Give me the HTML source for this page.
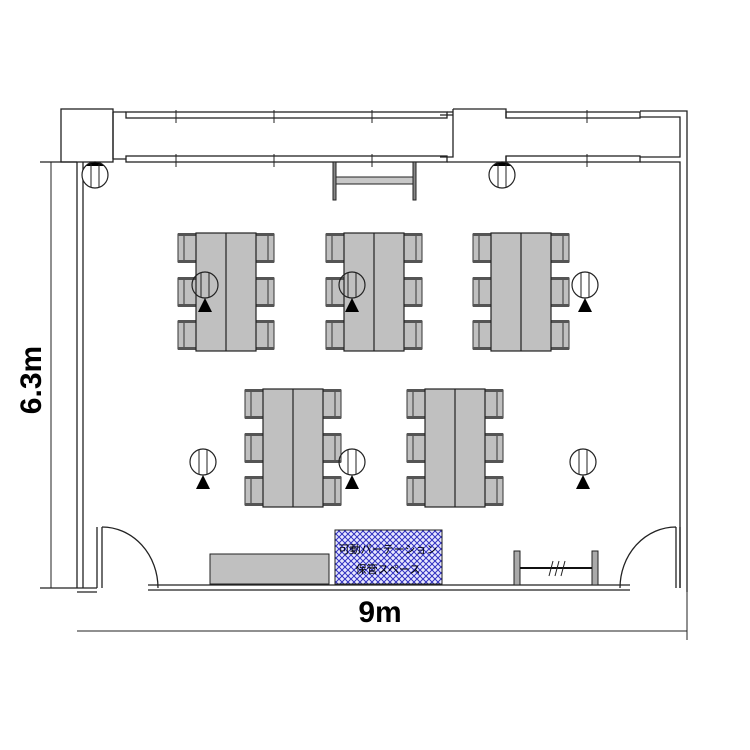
<!DOCTYPE html>
<html><head><meta charset="utf-8"><style>
html,body{margin:0;padding:0;background:#fff;}
svg{display:block;}
</style></head><body>
<svg width="750" height="750" viewBox="0 0 750 750" xmlns="http://www.w3.org/2000/svg">
<defs>
<g id="chL">
 <rect x="0" y="1" width="18" height="28" fill="#c0c0c0" stroke="#333" stroke-width="1"/>
 <rect x="0" y="0" width="18" height="3" fill="#555"/>
 <rect x="0" y="27" width="18" height="3" fill="#555"/>
 <line x1="6" y1="3" x2="6" y2="27" stroke="#333"/>
</g>
<g id="chR">
 <rect x="0" y="1" width="18" height="28" fill="#c0c0c0" stroke="#333" stroke-width="1"/>
 <rect x="0" y="0" width="18" height="3" fill="#555"/>
 <rect x="0" y="27" width="18" height="3" fill="#555"/>
 <line x1="12" y1="3" x2="12" y2="27" stroke="#333"/>
</g>
<g id="grp">
 <use href="#chL" x="-18" y="0"/><use href="#chL" x="-18" y="44"/><use href="#chL" x="-18" y="87"/>
 <use href="#chR" x="60" y="0"/><use href="#chR" x="60" y="44"/><use href="#chR" x="60" y="87"/>
 <rect x="0" y="0" width="60" height="118" fill="#c0c0c0" stroke="#222" stroke-width="1.2"/>
 <line x1="30" y1="0" x2="30" y2="118" stroke="#222" stroke-width="1.2"/>
</g>
<g id="fx">
 <circle cx="0" cy="0" r="13" fill="none" stroke="#222" stroke-width="1.2"/>
 <line x1="-4" y1="-12" x2="-4" y2="12" stroke="#222"/>
 <line x1="4" y1="-12" x2="4" y2="12" stroke="#222"/>
 <polygon points="-7,27 7,27 0,13" fill="#000"/>
</g>
<g id="cl">
 <circle cx="0" cy="0" r="13" fill="#fff" stroke="#222" stroke-width="1.2"/>
 <path d="M-9,-9 A13,13 0 0 1 9,-9 Z" fill="#000"/>
 <line x1="-4" y1="-11" x2="-4" y2="12" stroke="#222"/>
 <line x1="4" y1="-11" x2="4" y2="12" stroke="#222"/>
</g>
<pattern id="hatch" width="6" height="6" patternUnits="userSpaceOnUse">
 <rect width="6" height="6" fill="#e8e8ff"/>
 <path d="M0,0 L6,6 M6,0 L0,6" stroke="#3030c0" stroke-width="1"/>
</pattern>
</defs>

<g fill="none" stroke="#222" stroke-width="1.3">
 <rect x="61" y="109" width="52" height="53" fill="#fff"/>
 <path d="M113,112 H126 M113,159 H126 M113,112 V159"/>
 <rect x="126" y="112" width="321" height="6"/>
 <rect x="126" y="156" width="321" height="6"/>
 <path d="M447,112 H453 M447,162 H453"/>
 <path d="M453,109 H506 V112 M453,109 V115 M453,162 H506 M440,115 H453 V157 H440"/>
 <rect x="506" y="112" width="134" height="6"/>
 <rect x="506" y="156" width="134" height="6"/>
 <path d="M506,112 V118 M506,156 V162"/>
 <path d="M640,111 H687 V592 M640,117 H680 V157 H640 M640,162 H680 V588"/>
 <path d="M176,110 V123 M274,110 V123 M372,110 V123 M176,154 V167 M274,154 V167 M372,154 V167 M587,110 V123 M587,154 V167" stroke-width="1"/>
 <path d="M77,162 V588 M83,162 V588 M40,162 H77"/>
 <path d="M40,588 H97 M77,592 H97 M97,527 V588 M102,527 V588"/>
 <path d="M102,527 A56,61 0 0 1 158,588"/>
 <path d="M148,585 H630 M148,590 H630"/>
 <path d="M680,527 V588 M676,527 V588 M676,527 A56,61 0 0 0 620,588"/>
 <path d="M51,162 V588 M77,631 H687 M687,592 V640" stroke-width="1"/>
</g>

<rect x="333" y="162" width="3" height="38" fill="#888" stroke="#222"/>
<rect x="413" y="162" width="3" height="38" fill="#888" stroke="#222"/>
<rect x="336" y="177" width="77" height="7" fill="#c8c8c8" stroke="#222"/>

<use href="#cl" x="95" y="175"/>
<use href="#cl" x="502" y="175"/>

<use href="#grp" x="196" y="233"/>
<use href="#grp" x="344" y="233"/>
<use href="#grp" x="491" y="233"/>
<use href="#grp" x="263" y="389"/>
<use href="#grp" x="425" y="389"/>

<use href="#fx" x="205" y="285"/>
<use href="#fx" x="352" y="285"/>
<use href="#fx" x="585" y="285"/>
<use href="#fx" x="203" y="462"/>
<use href="#fx" x="352" y="462"/>
<use href="#fx" x="583" y="462"/>

<rect x="210" y="554" width="119" height="30" fill="#c0c0c0" stroke="#222"/>
<rect x="335" y="530" width="107" height="54" fill="url(#hatch)" stroke="#222"/>
<text x="388" y="553" font-family="Liberation Sans, Noto Sans CJK JP, sans-serif" font-size="11" text-anchor="middle" fill="#000">可動パーテーション</text>
<text x="388" y="573" font-family="Liberation Sans, Noto Sans CJK JP, sans-serif" font-size="11" text-anchor="middle" fill="#000">保管スペース</text>
<rect x="514" y="551" width="6" height="34" fill="#aaa" stroke="#222"/>
<rect x="592" y="551" width="6" height="34" fill="#aaa" stroke="#222"/>
<line x1="520" y1="568" x2="592" y2="568" stroke="#111" stroke-width="2"/>
<path d="M549,576 L553,561 M555,576 L559,561 M561,576 L565,561" stroke="#222"/>

<text x="380" y="622" font-family="Liberation Sans, sans-serif" font-size="30" font-weight="bold" text-anchor="middle" fill="#000">9m</text>
<text transform="translate(41,380) rotate(-90)" font-family="Liberation Sans, sans-serif" font-size="30" font-weight="bold" text-anchor="middle" fill="#000">6.3m</text>
</svg>
</body></html>
